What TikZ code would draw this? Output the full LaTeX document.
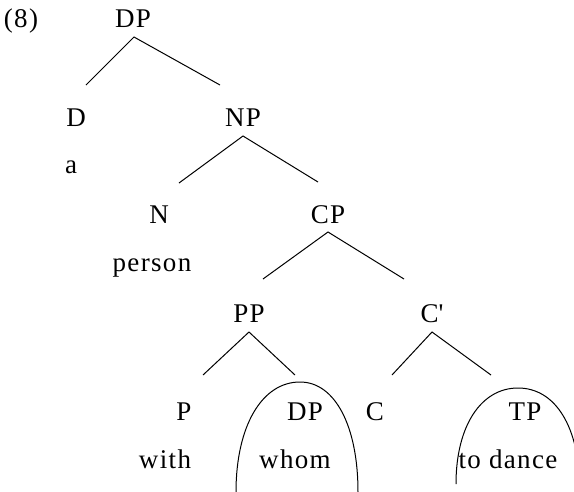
\documentclass[tikz,border=0pt]{standalone}
\usepackage{fontspec}
\setmainfont{Liberation Serif}[LetterSpace=5]
\begin{document}
\begin{tikzpicture}[x=1pt,y=-1pt,
  lab/.style={anchor=base,inner sep=0pt,font=\fontsize{27}{31}\selectfont},
  edge/.style={line width=1pt},
  arch/.style={line width=1pt}]
\useasboundingbox (0,0) rectangle (574,491);
% labels
\node[lab] (ex) at (21,27) {(8)};
\node[lab] (DP) at (133,27) {DP};
\node[lab] (D) at (76,126) {D};
\node[lab] (NP) at (243,126) {NP};
\node[lab] (a) at (71,173) {a};
\node[lab] (N) at (159,223) {N};
\node[lab] (CP) at (328,223) {CP};
\node[lab] (person) at (152,271) {person};
\node[lab] (PP) at (249,322) {PP};
\node[lab] (Cbar) at (432,322) {C\textquotesingle};
\node[lab] (P) at (184,420) {P};
\node[lab] (DP2) at (305,420) {DP};
\node[lab] (C) at (375,420) {C};
\node[lab] (TP) at (525,420) {TP};
\node[lab] (with) at (165,468) {with};
\node[lab] (whom) at (295,468) {whom};
\node[lab] (todance) at (508,468) {to dance};
% branch ends
\coordinate (DPa) at (134,37);
\coordinate (DPl) at (86,85);
\coordinate (DPr) at (220,85);
\coordinate (NPa) at (243,136);
\coordinate (NPl) at (179,183);
\coordinate (NPr) at (318,182);
\coordinate (CPa) at (328,232);
\coordinate (CPl) at (263,279);
\coordinate (CPr) at (404,279);
\coordinate (PPa) at (249,332);
\coordinate (PPl) at (203,375);
\coordinate (PPr) at (295,375);
\coordinate (Cba) at (432,332);
\coordinate (Cbl) at (392,375);
\coordinate (Cbr) at (491,375);
\draw[edge] (DPl) -- (DPa) -- (DPr);
\draw[edge] (NPl) -- (NPa) -- (NPr);
\draw[edge] (CPl) -- (CPa) -- (CPr);
\draw[edge] (PPl) -- (PPa) -- (PPr);
\draw[edge] (Cbl) -- (Cba) -- (Cbr);
% arches
\coordinate (A1l) at (236,492);
\coordinate (A1t) at (300,382);
\coordinate (A1r) at (358,492);
\draw[arch] (A1l) .. controls (236,426) and (262,382) .. (A1t)
  .. controls (335,382) and (358,426) .. (A1r);
\coordinate (A2l) at (456,484);
\coordinate (A2t) at (518,388);
\coordinate (A2r) at (580,492);
\draw[arch] (A2l) .. controls (456,426) and (481,388) .. (A2t)
  .. controls (555,388) and (580,426) .. (A2r);
\end{tikzpicture}
\end{document}
